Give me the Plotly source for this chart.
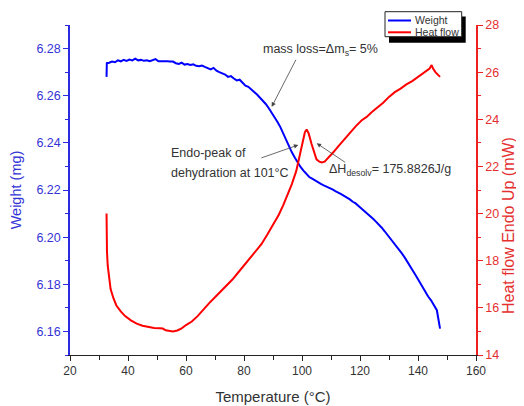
import plotly.graph_objects as go

# ---- data ----
temp_w = [32.6, 32.7, 33.5, 34.5, 35.5, 36.5, 37.5, 38.5, 39.5, 40.5, 41.5, 42.5, 43.5, 44.5,
          45.5, 46.5, 47.5, 48.5, 49.5, 50.5, 51.5, 52.5, 53.5, 54.5, 55.5, 56.5, 57.5, 58.5,
          59.5, 60.5, 61.5, 62.5, 63.5, 64.5, 65.5, 66.5, 67.5, 68.5, 69.5, 70.5, 71.5, 72.5,
          73.5, 74.5, 75.5, 76.5, 77.5, 78.5, 79.5, 80.5, 81.5, 82.5, 83.5, 84.5, 85.5, 86.5,
          87.5, 88.5, 89.5, 90.5, 91.5, 92.5, 93.5, 94.5, 95.5, 96.5, 97.5, 98.5, 99.5, 100.5,
          101.5, 102.5, 103.5, 104.5, 105.5, 106.5, 107.5, 108.5, 109.5, 110.5, 111.5, 112.5,
          113.5, 114.5, 115.5, 116.5, 117.5, 118.5, 119.5, 120.5, 121.5, 122.5, 123.5, 124.5,
          125.5, 126.5, 127.5, 128.5, 129.5, 130.5, 131.5, 132.5, 133.5, 134.5, 135.5, 136.5,
          137.5, 138.5, 139.5, 140.5, 141.5, 142.5, 143.5, 144.5, 145.5, 146.5, 147.0, 147.6]
weight = [6.2680, 6.2738, 6.2740, 6.2745, 6.2742, 6.2750, 6.2746, 6.2752, 6.2748, 6.2753,
          6.2750, 6.2757, 6.2750, 6.2752, 6.2748, 6.2750, 6.2746, 6.2749, 6.2755, 6.2746,
          6.2747, 6.2745, 6.2746, 6.2745, 6.2745, 6.2738, 6.2735, 6.2740, 6.2732, 6.2734,
          6.2730, 6.2733, 6.2727, 6.2725, 6.2728, 6.2722, 6.2716, 6.2712, 6.2718, 6.2706,
          6.2700, 6.2694, 6.2690, 6.2680, 6.2683, 6.2673, 6.2665, 6.2668, 6.2655, 6.2643,
          6.2638, 6.2625, 6.2616, 6.2605, 6.2592, 6.2578, 6.2565, 6.2548, 6.2530, 6.2510,
          6.2490, 6.2468, 6.2440, 6.2418, 6.2390, 6.2360, 6.2338, 6.2315, 6.2298, 6.2282,
          6.2268, 6.2255, 6.2248, 6.2240, 6.2235, 6.2226, 6.2220, 6.2215, 6.2210, 6.2203,
          6.2195, 6.2190, 6.2182, 6.2175, 6.2168, 6.2160, 6.2150, 6.2143, 6.2132, 6.2122,
          6.2110, 6.2100, 6.2090, 6.2078, 6.2066, 6.2054, 6.2040, 6.2025, 6.2010, 6.1995,
          6.1978, 6.1962, 6.1945, 6.1930, 6.1912, 6.1890, 6.1872, 6.1852, 6.1832, 6.1810,
          6.1790, 6.1765, 6.1748, 6.1732, 6.1712, 6.1690, 6.1655, 6.1612]

temp_h = [32.6, 32.62, 32.65, 32.75, 33.0, 33.5, 34.0, 35.0, 36.0, 37.5, 39.0, 41.0, 43.0,
          45.0, 47.0, 49.0, 51.0, 52.0, 53.0, 54.0, 55.5, 57.0, 58.5, 60.0, 62.0, 64.0, 66.0,
          68.0, 70.0, 72.0, 74.0, 76.0, 78.0, 80.0, 82.0, 84.0, 86.0, 88.0, 90.0, 92.0, 93.5,
          95.0, 96.5, 98.0, 99.3, 100.3, 101.0, 101.6, 102.3, 103.3, 104.2, 105.0, 106.0,
          106.8, 107.8, 109.0, 110.8, 112.5, 114.5, 116.6, 118.5, 120.5, 122.3, 124.0, 126.0,
          128.0, 130.0, 132.0, 134.0, 136.0, 138.0, 140.0, 142.0, 144.0, 144.7, 145.2, 146.0,
          147.6]
heat = [20.0, 19.5, 19.0, 18.4, 17.8, 17.2, 16.8, 16.4, 16.1, 15.85, 15.65, 15.47, 15.33,
        15.24, 15.19, 15.15, 15.13, 15.12, 15.05, 15.02, 15.0, 15.04, 15.13, 15.27, 15.42,
        15.65, 15.95, 16.2, 16.45, 16.7, 16.95, 17.2, 17.5, 17.8, 18.1, 18.4, 18.7, 19.1,
        19.5, 19.95, 20.35, 20.8, 21.25, 21.8, 22.5, 23.1, 23.45, 23.57, 23.4, 22.95, 22.55,
        22.3, 22.2, 22.17, 22.2, 22.35, 22.6, 22.85, 23.15, 23.45, 23.7, 23.95, 24.1, 24.3,
        24.5, 24.7, 24.95, 25.15, 25.3, 25.48, 25.62, 25.8, 25.98, 26.15, 26.3, 26.15, 26.0,
        25.8]

x_ticks = [20, 40, 60, 80, 100, 120, 140, 160]
w_ticks = [6.16, 6.18, 6.20, 6.22, 6.24, 6.26, 6.28]
h_ticks = [14, 16, 18, 20, 22, 24, 26, 28]
series_names = ["Weight", "Heat flow"]
series_colors = ["#0000ff", "#ff0000"]

FONT = "Liberation Sans, Arial, sans-serif"
BLUE_T = "#3434d6"
RED_T = "#e53030"

# page body has an 8px margin; the figure is sized so the plot lands where it should
PAGE_OFF = 8
W, H = 524 - PAGE_OFF, 406 - PAGE_OFF
# plot area in screenshot pixels
L, R, T, B = 70, 476, 25, 355
def px(xp):
    return (xp - L) / (R - L)
def py(yp):
    return (B - yp) / (B - T)

fig = go.Figure()
fig.add_trace(go.Scatter(x=temp_w, y=weight, mode="lines", name=series_names[0],
                         line=dict(color=series_colors[0], width=2), yaxis="y"))
fig.add_trace(go.Scatter(x=temp_h, y=heat, mode="lines", name=series_names[1],
                         line=dict(color=series_colors[1], width=2), yaxis="y2"))

fig.update_layout(
    width=W, height=H,
    margin=dict(l=L - PAGE_OFF, r=W - (R - PAGE_OFF), t=T - PAGE_OFF,
                b=H - (B - PAGE_OFF), autoexpand=False),
    paper_bgcolor="white", plot_bgcolor="white",
    font=dict(family=FONT, size=12, color="#333333"),
    showlegend=False,
    xaxis=dict(range=[20, 160], tickvals=x_ticks, showline=True, linecolor="#222222",
               linewidth=1, ticks="outside", ticklen=5, tickcolor="#222222", showgrid=False,
               zeroline=False, automargin=False, tickfont=dict(size=12, color="#333333"),
               minor=dict(dtick=10, ticks="outside", ticklen=4, tickcolor="#222222"),
               title=dict(text="Temperature (°C)", font=dict(size=15, color="#333333"),
                          standoff=14)),
    yaxis=dict(range=[6.15, 6.29], tickvals=w_ticks, tickformat=".2f", showline=True,
               linecolor="#2a2ae0", linewidth=1.5, ticks="outside", ticklen=5,
               tickcolor="#2a2ae0", showgrid=False, zeroline=False, automargin=False,
               tickfont=dict(size=12.5, color=BLUE_T),
               minor=dict(dtick=0.01, tick0=6.15, ticks="outside", ticklen=3,
                          tickcolor="#2a2ae0"),
               title=dict(text="Weight (mg)", font=dict(size=14.5, color=BLUE_T),
                          standoff=12)),
    yaxis2=dict(range=[14, 28], tickvals=h_ticks, overlaying="y", side="right",
                showline=True, linecolor="#ee2020", linewidth=1.5, ticks="outside",
                ticklen=5, tickcolor="#ee2020", showgrid=False, zeroline=False,
                automargin=False, tickfont=dict(size=12.5, color=RED_T),
                minor=dict(dtick=1, ticks="outside", ticklen=3, tickcolor="#ee2020")),
)

# right axis title (placed lower than centre, as in the reference)
fig.add_annotation(xref="paper", yref="paper", x=px(508), y=py(225),
                   text="Heat flow Endo Up (mW)", textangle=-90, showarrow=False,
                   xanchor="center", yanchor="middle",
                   font=dict(size=16, color=RED_T, family=FONT))

# ---- legend (box with drop shadow) ----
fig.add_shape(type="rect", xref="paper", yref="paper", x0=px(389), x1=px(465.7),
              y0=py(42.7), y1=py(16.5), fillcolor="black", line=dict(width=0), layer="above")
fig.add_shape(type="rect", xref="paper", yref="paper", x0=px(385), x1=px(461.7),
              y0=py(36.7), y1=py(11.7), fillcolor="white", line=dict(color="#222222", width=1),
              layer="above")
for i, (name, col) in enumerate(zip(series_names, series_colors)):
    yy = 20.5 + i * 11.8
    fig.add_shape(type="line", xref="paper", yref="paper", x0=px(388), x1=px(411),
                  y0=py(yy), y1=py(yy), line=dict(color=col, width=2), layer="above")
    fig.add_annotation(xref="paper", yref="paper", x=px(412.5), y=py(yy), text=name,
                       xanchor="left", yanchor="middle", showarrow=False,
                       font=dict(size=10.5, color="#333333", family=FONT))

ANN = "#333333"
texts = [
    dict(x=106.5, y=6.2794, text="mass loss=Δm<sub>s</sub>= 5%", xanchor="center"),
    dict(x=54.2, y=6.2356, text="Endo-peak of", xanchor="left"),
    dict(x=54.2, y=6.2271, text="dehydration at 101°C", xanchor="left"),
    dict(x=108.5, y=6.2284, text="ΔH<sub>desolv</sub>= 175.8826J/g", xanchor="left"),
]
for t in texts:
    fig.add_annotation(x=t["x"], y=t["y"], xref="x", yref="y", text=t["text"],
                       xanchor=t["xanchor"], yanchor="middle", showarrow=False,
                       font=dict(size=12.5, color=ANN, family=FONT))

arrows = [
    (89.55, 6.2553, 98.17, 6.2759),
    (98.72, 6.2391, 85.5, 6.2334),
    (105.07, 6.2398, 115.4, 6.2313),
]
for hx, hy, tx, ty in arrows:
    fig.add_annotation(x=hx, y=hy, xref="x", yref="y", ax=tx, ay=ty, axref="x", ayref="y",
                       text="", showarrow=True, arrowhead=2, arrowsize=1.1,
                       arrowwidth=0.8, arrowcolor="#444444")

fig.write_html("out.html")
